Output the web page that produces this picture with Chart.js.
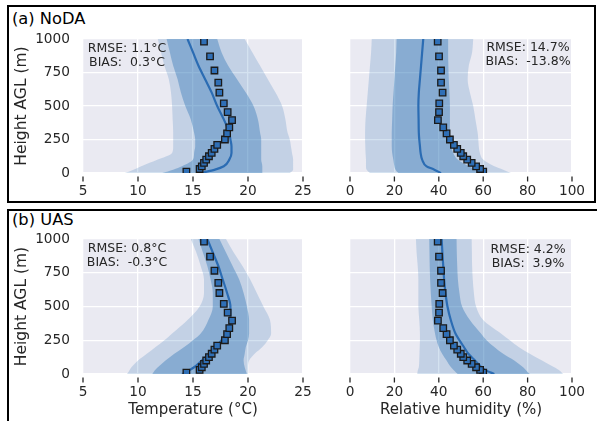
<!DOCTYPE html>
<html>
<head>
<meta charset="utf-8">
<script src="https://cdn.jsdelivr.net/npm/chart.js@4.4.1/dist/chart.umd.min.js"></script>
<style>
  body { margin: 0; background: #fff; }
  #wrap { position: relative; width: 597px; height: 421px; overflow: hidden; font-family: "DejaVu Sans", sans-serif; color: #262626; }
  .frame { position: absolute; border: 2px solid #000; box-sizing: border-box; }
  .panel-label { position: absolute; font-size: 16.3px; line-height: 16px; color: #000; white-space: pre; }
  .stats { position: absolute; width: 140px; text-align: center; font-size: 12.5px; line-height: 14px; white-space: pre; color: #262626; }
  canvas { position: absolute; }
</style>
</head>
<body>
<div id="wrap">
  <div class="frame" style="left:7px;top:5px;width:589px;height:198px"></div>
  <div class="frame" style="left:7px;top:209px;width:600px;height:300px"></div>
  <div class="panel-label" style="left:12px;top:10.5px">(a) NoDA</div>
  <div class="panel-label" style="left:12px;top:212px">(b) UAS</div>

  <canvas id="nodaTemp" width="315" height="205" style="left:0;top:0"></canvas>
  <canvas id="nodaRh" width="282" height="205" style="left:315px;top:0"></canvas>
  <canvas id="uasTemp" width="315" height="216" style="left:0;top:205px"></canvas>
  <canvas id="uasRh" width="282" height="216" style="left:315px;top:205px"></canvas>

  <div class="stats" style="left:57px;top:40.5px">RMSE: 1.1°C
BIAS:  0.3°C</div>
  <div class="stats" style="left:458px;top:39.5px">RMSE: 14.7%
BIAS:  -13.8%</div>
  <div class="stats" style="left:57px;top:241px">RMSE: 0.8°C
BIAS:  -0.3°C</div>
  <div class="stats" style="left:458px;top:241.5px">RMSE: 4.2%
BIAS:  3.9%</div>
</div>
<script>
// profile heights (m AGL) used for the ensemble bands and mean
const heights = [0, 25, 50, 100, 150, 200, 250, 300, 400, 500, 600, 700, 800, 900, 1000];

// observations (squares), same in both rows
const obsHeights = [10, 30, 50, 75, 100, 125, 150, 180, 210, 250, 295, 340, 395, 455, 520, 600, 675, 765, 870, 980];
const obsTemp = [14.4, 15.6, 15.8, 16.0, 16.2, 16.45, 16.7, 16.95, 17.2, 17.9, 18.1, 18.3, 18.55, 18.15, 17.8, 17.4, 17.3, 16.95, 16.55, 16.0];
const obsRh = [60.0, 58.6, 56.8, 54.8, 52.8, 51.0, 49.9, 48.3, 46.8, 45.0, 43.5, 42.0, 39.6, 40.1, 40.2, 41.7, 41.0, 41.0, 40.1, 39.5];

// (a) NoDA temperature
const nodaTempOuterLo = [8.8, 9.6, 10.3, 11.8, 13.1, 13.2, 13.2, 13.2, 13.15, 13.1, 13.0, 12.8, 12.4, 12.1, 11.8];
const nodaTempInnerLo = [12.2, 13.2, 14.0, 15.0, 15.1, 15.2, 15.2, 15.1, 14.8, 14.3, 13.9, 13.6, 13.2, 12.9, 12.6];
const nodaTempMean = [15.7, 17.0, 17.8, 18.3, 18.5, 18.5, 18.4, 18.3, 17.8, 17.2, 16.7, 16.1, 15.5, 15.0, 14.5];
const nodaTempInnerHi = [21.3, 21.3, 21.3, 21.2, 21.2, 21.2, 21.2, 21.1, 20.9, 20.5, 19.8, 19.0, 18.2, 17.6, 17.2];
const nodaTempOuterHi = [23.8, 24.1, 24.1, 24.1, 24.0, 23.9, 23.8, 23.6, 23.4, 23.1, 22.5, 21.8, 21.1, 20.4, 19.7];

// (a) NoDA relative humidity
const nodaRhOuterLo = [9.0, 7.5, 7.2, 7.2, 7.0, 6.9, 6.8, 6.8, 7.0, 7.5, 8.0, 8.5, 9.0, 9.5, 9.8];
const nodaRhInnerLo = [21.8, 20.5, 20.0, 19.5, 19.0, 18.8, 18.8, 18.8, 19.0, 19.2, 19.6, 20.0, 20.4, 20.8, 21.0];
const nodaRhMean = [41.0, 38.0, 34.5, 32.5, 31.8, 31.5, 31.2, 31.0, 30.9, 30.8, 31.0, 31.5, 32.0, 32.5, 33.0];
const nodaRhInnerHi = [61.0, 57.0, 53.5, 48.5, 46.5, 45.5, 45.0, 45.0, 45.0, 45.0, 44.8, 44.5, 44.3, 44.2, 44.2];
const nodaRhOuterHi = [72.5, 69.0, 65.0, 60.0, 58.5, 58.0, 57.8, 57.5, 56.5, 55.5, 54.0, 53.0, 53.5, 55.0, 55.5];

// (b) UAS temperature
const uasTempOuterLo = [9.0, 9.2, 9.4, 10.0, 10.8, 11.6, 12.4, 13.1, 14.5, 15.6, 16.0, 16.0, 15.7, 15.3, 14.8];
const uasTempInnerLo = [11.3, 11.5, 11.8, 12.5, 13.3, 14.2, 15.0, 15.7, 16.4, 16.8, 16.8, 16.6, 16.3, 15.9, 15.5];
const uasTempMean = [14.0, 14.6, 15.1, 15.8, 16.5, 17.1, 17.6, 18.1, 18.4, 18.4, 18.1, 17.7, 17.3, 16.8, 16.3];
const uasTempInnerHi = [19.9, 19.8, 19.7, 19.6, 19.7, 19.8, 20.0, 20.1, 20.1, 19.9, 19.6, 19.2, 18.6, 18.0, 17.4];
const uasTempOuterHi = [20.0, 20.0, 20.0, 20.1, 20.6, 21.3, 21.8, 22.1, 22.0, 21.4, 20.8, 20.2, 19.5, 18.7, 18.0];

// (b) UAS relative humidity
const uasRhOuterLo = [30.3, 30.5, 31.0, 31.2, 31.3, 31.4, 31.5, 31.5, 31.2, 30.8, 30.8, 30.8, 30.5, 30.0, 29.7];
const uasRhInnerLo = [48.5, 47.0, 45.5, 43.5, 41.5, 40.0, 39.0, 38.3, 37.3, 36.8, 36.4, 36.1, 35.9, 35.8, 35.7];
const uasRhMean = [65.0, 61.5, 59.3, 56.3, 53.3, 51.3, 49.3, 47.5, 45.4, 43.9, 43.0, 42.4, 42.0, 41.6, 41.3];
const uasRhInnerHi = [81.0, 79.5, 78.0, 74.0, 69.0, 65.0, 61.5, 59.0, 54.0, 50.5, 49.3, 48.6, 48.3, 48.1, 48.0];
const uasRhOuterHi = [96.0, 94.5, 92.0, 86.5, 81.0, 76.0, 72.0, 68.0, 60.0, 56.8, 55.8, 55.3, 55.0, 54.9, 54.8];

const tempTicks = [5, 25, 5];   // min, max, step
const rhTicks = [0, 100, 20];
const heightTicks = [0, 1000, 250];

const FONT = 'DejaVu Sans';
const TEXT = '#262626';

const toPts = (xs, hs) => xs.map((x, i) => ({ x: x, y: hs[i] }));
const plain = v => String(v);

const panelBg = {
    id: 'panelBg',
    beforeDraw(chart) {
        const { ctx, chartArea: a } = chart;
        ctx.save();
        ctx.fillStyle = '#EAEAF2';
        ctx.fillRect(a.left, a.top, a.right - a.left, a.bottom - a.top);
        ctx.restore();
    }
};

// seaborn-style x ticks, set off a little below the axes
const offsetTicks = {
    id: 'offsetTicks',
    afterDraw(chart) {
        const { ctx, chartArea: a, scales } = chart;
        const x = scales.x;
        ctx.save();
        ctx.strokeStyle = TEXT;
        ctx.lineWidth = 1.3;
        x.ticks.forEach(t => {
            const px = x.getPixelForValue(t.value);
            ctx.beginPath();
            ctx.moveTo(px, a.bottom + 3.5);
            ctx.lineTo(px, a.bottom + 8.5);
            ctx.stroke();
        });
        ctx.restore();
    }
};

function band(data, fillTo, alpha) {
    return {
        data: toPts(data, heights),
        borderWidth: 0,
        pointRadius: 0,
        fill: fillTo === null ? false : fillTo,
        backgroundColor: `rgba(40, 112, 180, ${alpha})`,
        cubicInterpolationMode: 'monotone'
    };
}

function makePanel(id, p) {
    new Chart(document.getElementById(id), {
        type: 'line',
        data: {
            datasets: [
                {
                    data: toPts(p.obs, obsHeights),
                    showLine: false,
                    pointStyle: 'rect',
                    pointRadius: 4.6,
                    pointBackgroundColor: '#2f6fb6',
                    pointBorderColor: '#1a1a1a',
                    pointBorderWidth: 1.3
                },
                {
                    data: toPts(p.mean, heights),
                    borderColor: '#2b6cb3',
                    borderWidth: 2.2,
                    pointRadius: 0,
                    fill: false,
                    cubicInterpolationMode: 'monotone'
                },
                band(p.innerLo, 3, 0.38),
                band(p.innerHi, null, 0),
                band(p.outerLo, 5, 0.2),
                band(p.outerHi, null, 0)
            ]
        },
        options: {
            responsive: false,
            animation: false,
            indexAxis: 'y',
            layout: { padding: { left: p.padLeft, top: p.padTop, right: p.padRight, bottom: 0 } },
            plugins: { legend: { display: false }, tooltip: { enabled: false } },
            scales: {
                x: {
                    type: 'linear',
                    min: p.ticks[0], max: p.ticks[1],
                    ticks: { stepSize: p.ticks[2], padding: 10, color: TEXT, font: { family: FONT, size: 13.7 }, callback: plain },
                    grid: { color: '#ffffff', lineWidth: 1.3, drawTicks: false },
                    border: { display: false },
                    title: {
                        display: !!p.xTitle, text: p.xTitle || '', color: TEXT,
                        font: { family: FONT, size: 15 }, padding: { top: 0, bottom: 2 }
                    },
                    afterFit(s) { s.height = p.xAxisH; s.paddingLeft = 0; s.paddingRight = 0; }
                },
                y: {
                    type: 'linear',
                    min: heightTicks[0], max: heightTicks[1],
                    ticks: { stepSize: heightTicks[2], display: p.showY, padding: 13, color: TEXT, font: { family: FONT, size: 13.7 }, callback: plain },
                    grid: { color: '#ffffff', lineWidth: 1.3, drawTicks: false },
                    border: { display: false },
                    title: {
                        display: p.showY, text: 'Height AGL (m)', color: TEXT,
                        font: { family: FONT, size: 15.5 }, padding: { top: 12.5, bottom: 0 }
                    },
                    afterFit(s) { s.width = p.showY ? 83 : 0; }
                }
            }
        },
        plugins: [panelBg, offsetTicks]
    });
}

makePanel('nodaTemp', {
    obs: obsTemp, mean: nodaTempMean,
    innerLo: nodaTempInnerLo, innerHi: nodaTempInnerHi, outerLo: nodaTempOuterLo, outerHi: nodaTempOuterHi,
    ticks: tempTicks, showY: true, padLeft: 0, padTop: 39, padRight: 12, xAxisH: 32
});
makePanel('nodaRh', {
    obs: obsRh, mean: nodaRhMean,
    innerLo: nodaRhInnerLo, innerHi: nodaRhInnerHi, outerLo: nodaRhOuterLo, outerHi: nodaRhOuterHi,
    ticks: rhTicks, showY: false, padLeft: 35, padTop: 39, padRight: 25, xAxisH: 32
});
makePanel('uasTemp', {
    obs: obsTemp, mean: uasTempMean,
    innerLo: uasTempInnerLo, innerHi: uasTempInnerHi, outerLo: uasTempOuterLo, outerHi: uasTempOuterHi,
    ticks: tempTicks, showY: true, padLeft: 0, padTop: 34, padRight: 12, xAxisH: 47,
    xTitle: 'Temperature (°C)'
});
makePanel('uasRh', {
    obs: obsRh, mean: uasRhMean,
    innerLo: uasRhInnerLo, innerHi: uasRhInnerHi, outerLo: uasRhOuterLo, outerHi: uasRhOuterHi,
    ticks: rhTicks, showY: false, padLeft: 35, padTop: 34, padRight: 25, xAxisH: 47,
    xTitle: 'Relative humidity (%)'
});
</script>
</body>
</html>
